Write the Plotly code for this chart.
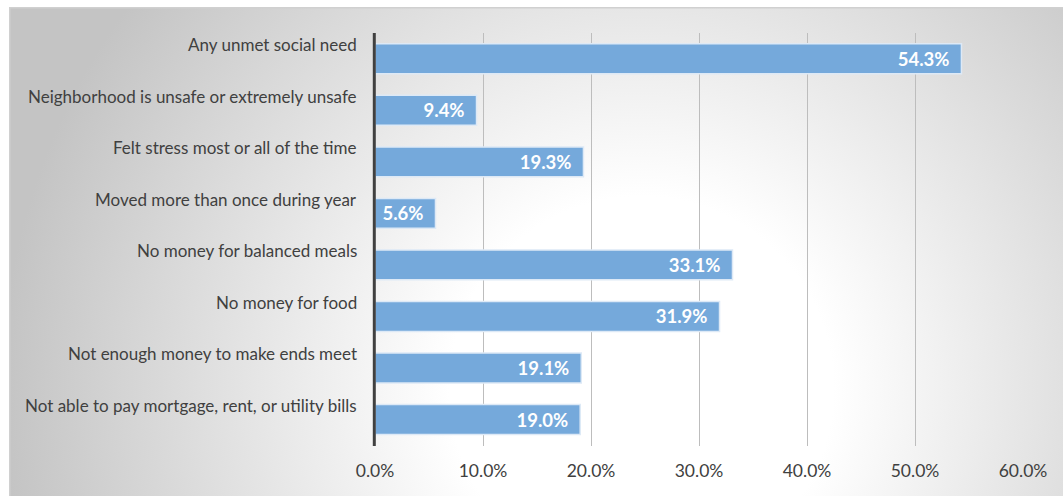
import base64
import plotly.graph_objects as go

categories = [
    "Any unmet social need",
    "Neighborhood is unsafe or extremely unsafe",
    "Felt stress most or all of the time",
    "Moved more than once during year",
    "No money for balanced meals",
    "No money for food",
    "Not enough money to make ends meet",
    "Not able to pay mortgage, rent, or utility bills",
]
values = [54.3, 9.4, 19.3, 5.6, 33.1, 31.9, 19.1, 19.0]
tick_vals = [0, 10, 20, 30, 40, 50, 60]
tick_text = ["0.0%", "10.0%", "20.0%", "30.0%", "40.0%", "50.0%", "60.0%"]

W, H = 1063, 496
ML, MR, MT, MB = 375, 40, 33, 50
PW = W - ML - MR
PH = H - MT - MB

# Background gradient frame (image coords)
fx0, fy0, fx1, fy1 = 9, 7, 1063, 496
fw, fh = fx1 - fx0, fy1 - fy0
svg = f'''<svg xmlns="http://www.w3.org/2000/svg" width="{fw}" height="{fh}" viewBox="0 0 {fw} {fh}" preserveAspectRatio="none">
<defs><radialGradient id="g" gradientUnits="userSpaceOnUse" cx="{0.6*fw}" cy="{0.78*fh}" r="640">
<stop offset="0" stop-color="#ffffff"/><stop offset="0.3" stop-color="#ffffff"/><stop offset="1" stop-color="#c4c4c4"/>
</radialGradient></defs>
<rect x="0" y="0" width="{fw}" height="{fh}" fill="url(#g)"/>
<line x1="0" y1="0.75" x2="{fw}" y2="0.75" stroke="#d0d0d0" stroke-width="1.5"/>
<line x1="0.75" y1="0" x2="0.75" y2="{fh}" stroke="#d0d0d0" stroke-width="1.5"/>
</svg>'''
src = "data:image/svg+xml;base64," + base64.b64encode(svg.encode()).decode()

fig = go.Figure()
fig.add_trace(go.Bar(
    y=categories,
    x=values,
    orientation="h",
    marker=dict(color="#75a9db", line=dict(color="#dde9f6", width=1.5)),
    width=0.58,
    text=[f"{v:.1f}%\u00a0\u00a0" for v in values],
    textposition="inside",
    insidetextanchor="end",
    textfont=dict(family="Lato", size=18.5, color="white", weight="bold"),
    hoverinfo="skip",
))

for c in categories:
    fig.add_annotation(
        x=0, xref="paper", y=c, yref="y",
        text=c, showarrow=False, xanchor="right", yanchor="middle",
        xshift=-16, yshift=14,
        font=dict(family="Lato", size=17, color="#404040"),
    )

fig.add_layout_image(dict(
    source=src, xref="paper", yref="paper",
    x=(fx0 - ML) / PW, y=1 + (MT - fy0) / PH,
    sizex=fw / PW, sizey=fh / PH,
    sizing="stretch", xanchor="left", yanchor="top", layer="below",
))

# vertical category axis line drawn above the bars (paper ref avoids clipping)
fig.add_shape(
    type="line", xref="paper", yref="paper", x0=-0.7 / PW, x1=-0.7 / PW, y0=0, y1=1,
    line=dict(color="#404040", width=3), layer="above",
)

fig.update_layout(
    width=W, height=H,
    margin=dict(l=ML, r=MR, t=MT, b=MB),
    paper_bgcolor="white",
    plot_bgcolor="rgba(0,0,0,0)",
    showlegend=False,
    xaxis=dict(
        range=[0, 60], tickvals=tick_vals, ticktext=tick_text,
        showgrid=True, gridcolor="#bdbdbd", gridwidth=1.3,
        zeroline=False,
        tickfont=dict(family="Lato", size=17.5, color="#404040"),
        ticks="", ticklabelstandoff=12, fixedrange=True,
    ),
    yaxis=dict(
        categoryorder="array", categoryarray=categories,
        autorange="reversed", showticklabels=False, showgrid=False,
        zeroline=False, ticks="", fixedrange=True,
    ),
)

fig.write_html(
    "out.html",
    config={"displayModeBar": False},
    post_script="document.body.style.margin='0';document.body.style.overflow='hidden';",
)
